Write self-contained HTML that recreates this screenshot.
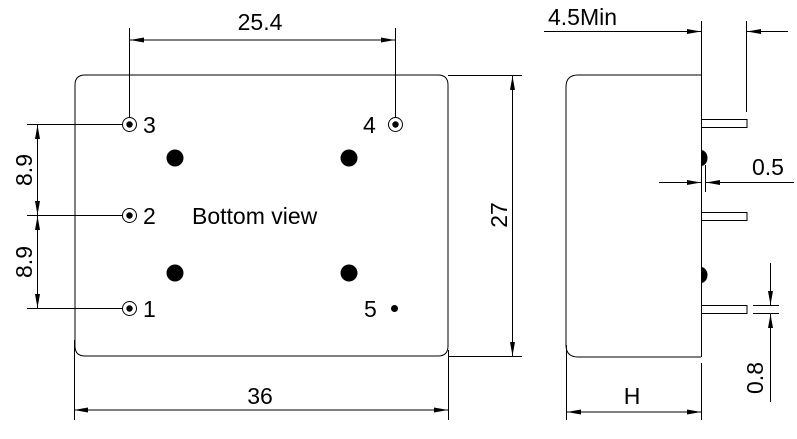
<!DOCTYPE html>
<html><head><style>body{margin:0;background:#fff}svg{display:block}text{font-family:"Liberation Sans",Arial,sans-serif;fill:#000}</style></head>
<body>
<svg width="797" height="439" viewBox="0 0 797 439" xmlns="http://www.w3.org/2000/svg">
<defs>
<marker id="a" markerWidth="14" markerHeight="8" refX="14" refY="4" orient="auto" markerUnits="userSpaceOnUse"><path d="M0,1.5 L14,4 L0,6.5 Z" fill="#000"/></marker>
<marker id="b" markerWidth="14" markerHeight="8" refX="0" refY="4" orient="auto" markerUnits="userSpaceOnUse"><path d="M14,1.5 L0,4 L14,6.5 Z" fill="#000"/></marker>
</defs>
<g stroke="#000" stroke-width="1" fill="none">
<path d="M85,75 H438 Q448,75 448,85 V346 Q448,356 438,356 H85 Q75,356 75,346 V85 Q75,75 85,75 Z" fill="#fff"/>
<line x1="74.5" y1="340" x2="74.5" y2="420"/>
<line x1="448.5" y1="350" x2="448.5" y2="420"/>
<line x1="74" y1="410" x2="448" y2="410" marker-start="url(#b)" marker-end="url(#a)"/>
<line x1="129.5" y1="28" x2="129.5" y2="117"/>
<line x1="395.5" y1="28" x2="395.5" y2="117"/>
<line x1="130" y1="40" x2="395" y2="40" marker-start="url(#b)" marker-end="url(#a)"/>
<line x1="448" y1="75.5" x2="522" y2="75.5"/>
<line x1="448" y1="356.5" x2="522" y2="356.5"/>
<line x1="512.5" y1="76" x2="512.5" y2="356" marker-start="url(#b)" marker-end="url(#a)"/>
<line x1="27" y1="124.5" x2="122" y2="124.5"/>
<line x1="27" y1="215.5" x2="122" y2="215.5"/>
<line x1="27" y1="308.5" x2="122" y2="308.5"/>
<line x1="37.5" y1="125" x2="37.5" y2="215" marker-start="url(#b)" marker-end="url(#a)"/>
<line x1="37.5" y1="216" x2="37.5" y2="308" marker-start="url(#b)" marker-end="url(#a)"/>
<circle cx="129.5" cy="124.5" r="7"/><circle cx="129.5" cy="215.5" r="7"/><circle cx="129.5" cy="308.5" r="7"/><circle cx="395.5" cy="124.5" r="7"/>
<path d="M701,75 H578 Q566,75 566,87 V345 Q566,357 578,357 H701" fill="#fff"/>
<line x1="701.5" y1="21" x2="701.5" y2="357"/>
<line x1="701.5" y1="363" x2="701.5" y2="420"/>
<line x1="566.5" y1="345" x2="566.5" y2="420"/>
<line x1="567" y1="412" x2="701" y2="412" marker-start="url(#b)" marker-end="url(#a)"/>
<rect x="701.5" y="119.5" width="45.5" height="8"/>
<rect x="701.5" y="212.5" width="45.5" height="8"/>
<rect x="701.5" y="305.5" width="45.5" height="8"/>
<line x1="746.5" y1="21" x2="746.5" y2="112"/>
<line x1="544" y1="31.5" x2="701" y2="31.5" marker-end="url(#a)"/>
<line x1="788" y1="31.5" x2="747" y2="31.5" marker-end="url(#a)"/>
<line x1="659" y1="182.5" x2="701" y2="182.5" marker-end="url(#a)"/>
<line x1="794" y1="182.5" x2="706" y2="182.5" marker-end="url(#a)"/>
<line x1="705.5" y1="165" x2="705.5" y2="192"/>
<line x1="753" y1="305.5" x2="779" y2="305.5"/>
<line x1="753" y1="313.5" x2="779" y2="313.5"/>
<line x1="770.5" y1="263" x2="770.5" y2="305" marker-end="url(#a)"/>
<line x1="770.5" y1="402" x2="770.5" y2="314" marker-end="url(#a)"/>
</g>
<g fill="#000">
<circle cx="129.5" cy="124.5" r="3.2"/><circle cx="129.5" cy="215.5" r="3.2"/><circle cx="129.5" cy="308.5" r="3.2"/><circle cx="395.5" cy="124.5" r="3.2"/>
<circle cx="394.5" cy="308.5" r="3.5"/>
<circle cx="175" cy="158" r="8.5"/><circle cx="349" cy="158" r="8.5"/><circle cx="175" cy="273" r="8.5"/><circle cx="349" cy="273" r="8.5"/>
<path d="M701,150 A6.5,8 0 0 1 701,166 Z"/>
<path d="M701,267 A6.5,8 0 0 1 701,283 Z"/>
</g>
<g font-size="23">
<text x="260" y="30" text-anchor="middle">25.4</text>
<text x="260" y="404" text-anchor="middle">36</text>
<text x="143" y="133">3</text><text x="143" y="224">2</text><text x="143" y="317">1</text>
<text x="363" y="133">4</text><text x="364" y="317">5</text>
<text x="192" y="224">Bottom view</text>
<text transform="translate(507,215) rotate(-90)" text-anchor="middle">27</text>
<text transform="translate(32,170) rotate(-90)" text-anchor="middle">8.9</text>
<text transform="translate(32,262) rotate(-90)" text-anchor="middle">8.9</text>
<text x="548" y="25">4.5Min</text>
<text x="752" y="175">0.5</text>
<text x="632" y="404" text-anchor="middle">H</text>
<text transform="translate(763,378) rotate(-90)" text-anchor="middle">0.8</text>
</g>
</svg>
</body></html>
